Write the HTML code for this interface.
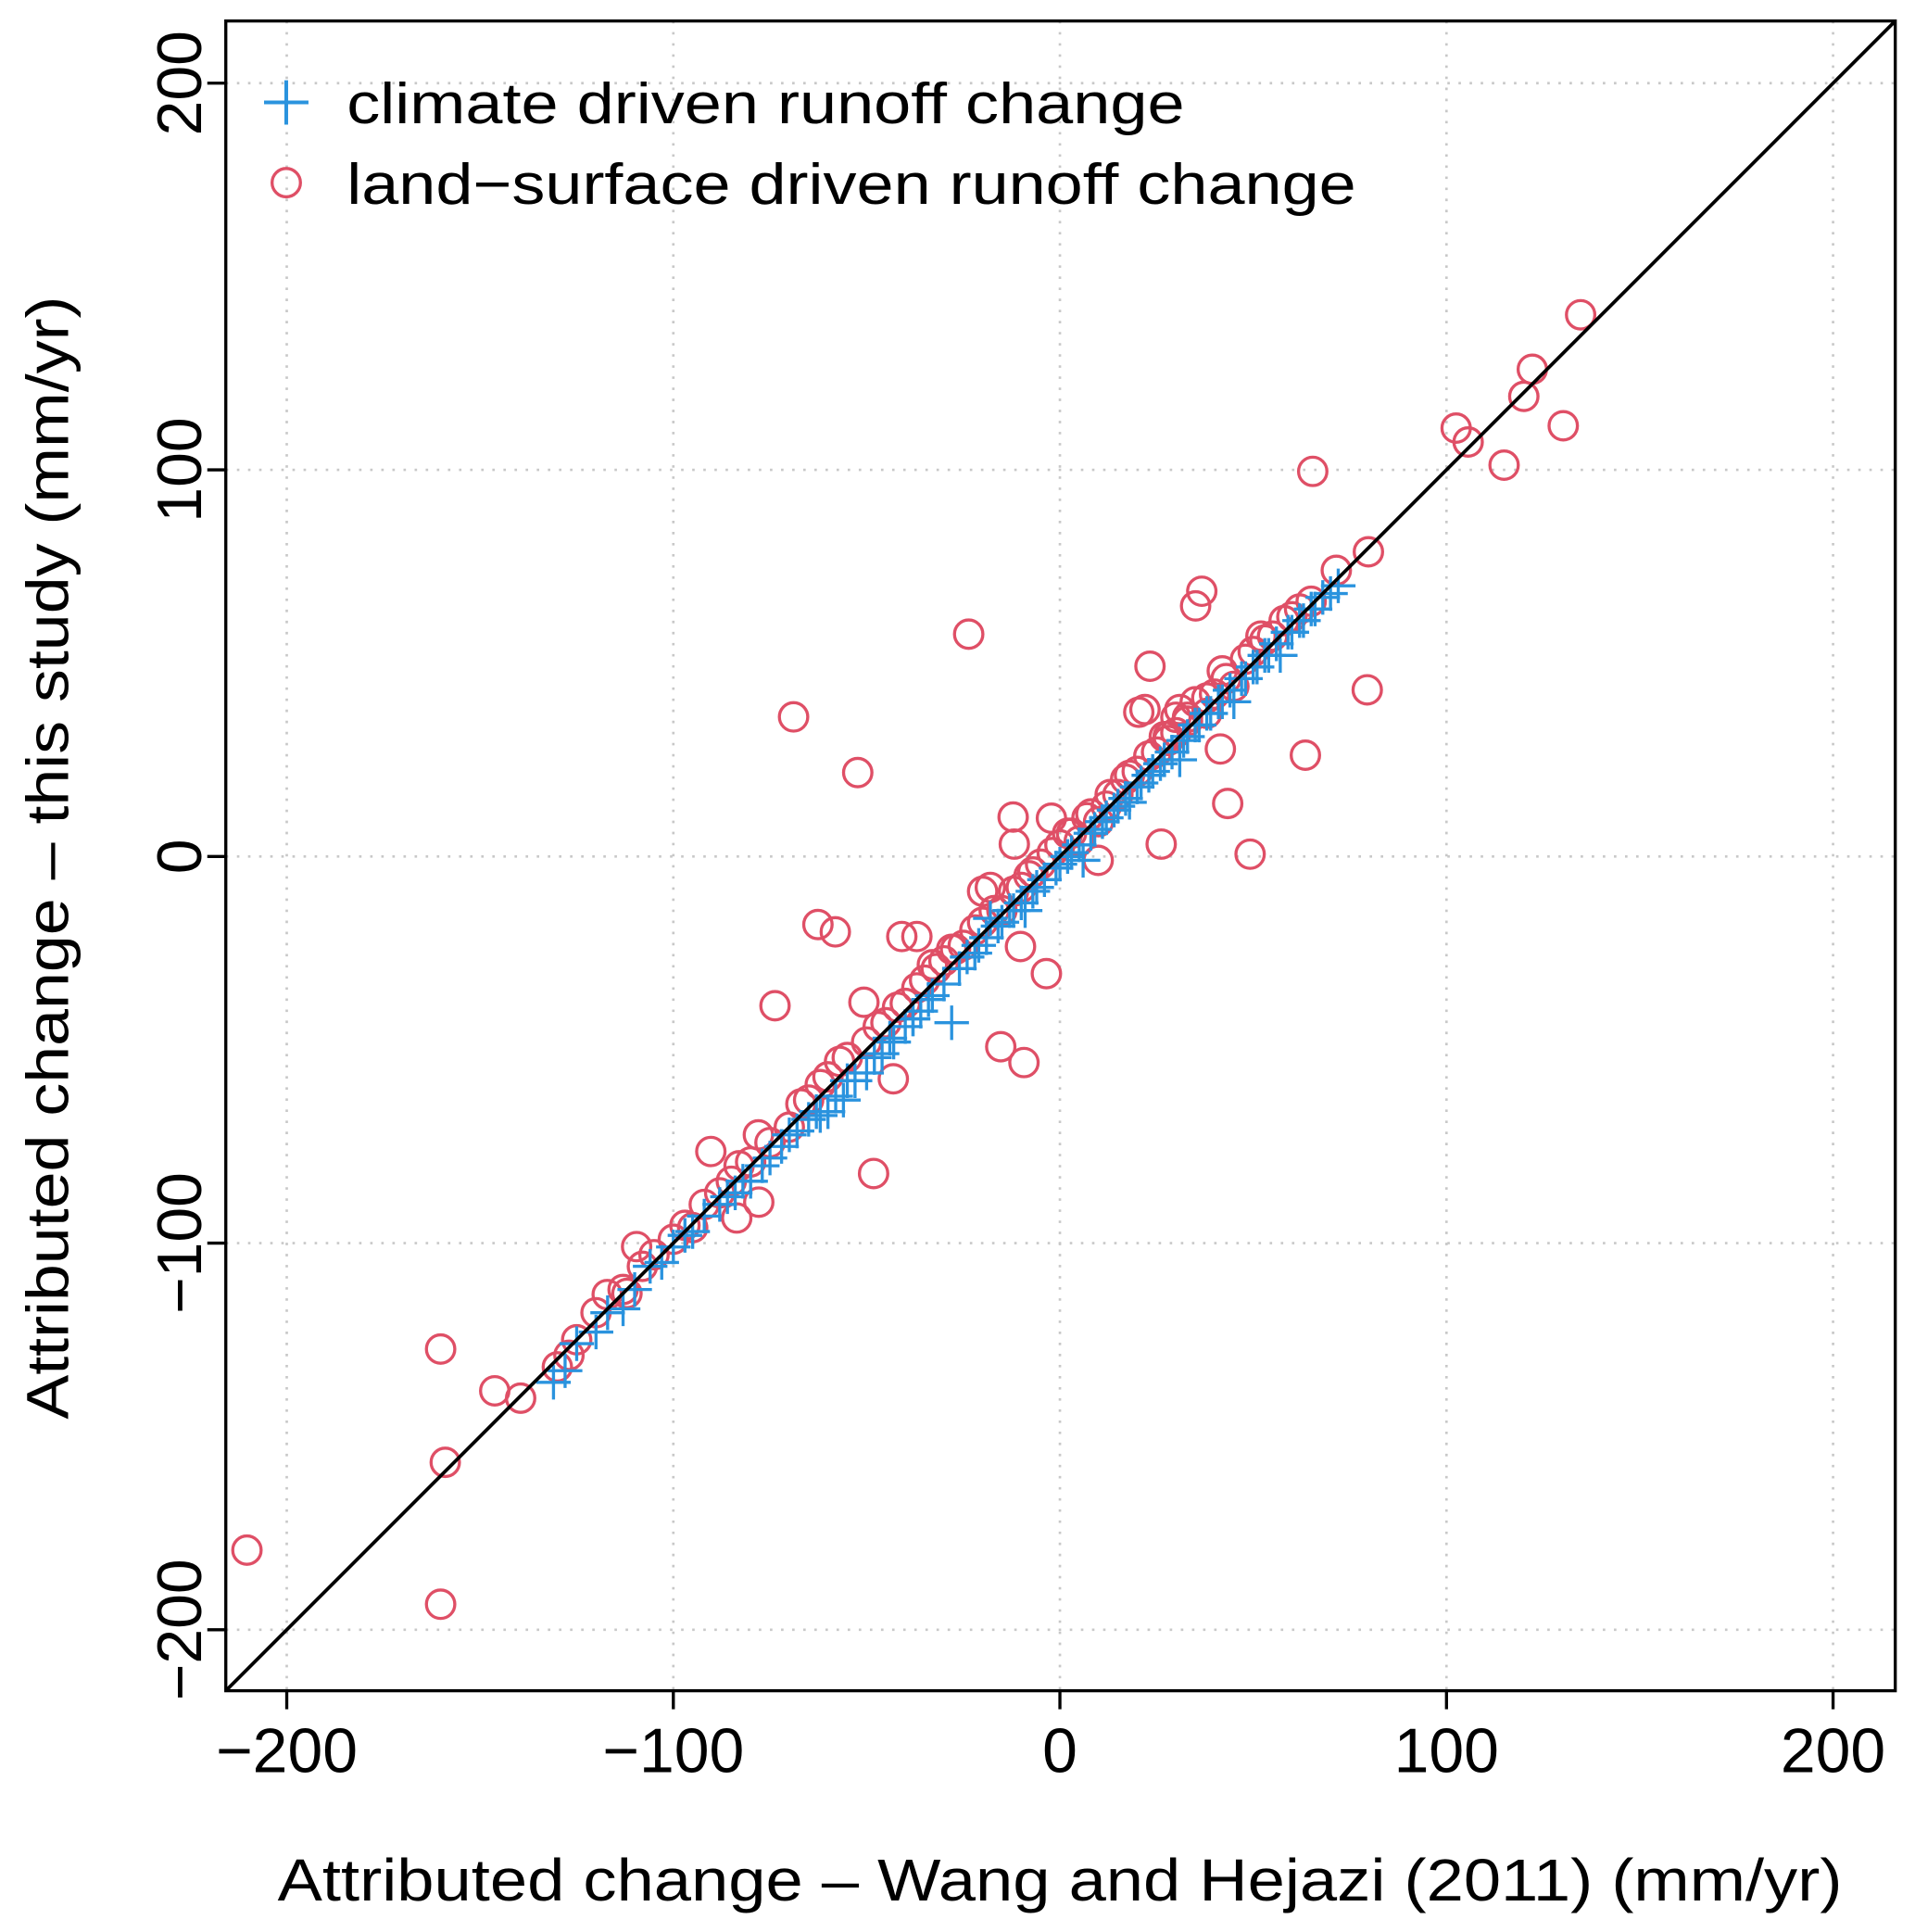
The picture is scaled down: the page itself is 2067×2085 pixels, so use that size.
<!DOCTYPE html>
<html><head><meta charset="utf-8"><style>
html,body{margin:0;padding:0;background:#fff;}
svg{display:block;font-family:"Liberation Sans",Arial,sans-serif;}
</style></head><body>
<svg id="chart" width="2067" height="2085" viewBox="0 0 1552 1565.5" preserveAspectRatio="none" xmlns="http://www.w3.org/2000/svg">
<g id="grid"></g>
<g id="marks"></g>
<rect x="183" y="17" width="1353" height="1353" fill="none" stroke="#000" stroke-width="2.5"/>
<g id="axes"></g>
<text x="225" y="1540" font-size="48" textLength="1268" lengthAdjust="spacingAndGlyphs">Attributed change – Wang and Hejazi (2011) (mm/yr)</text>
<text transform="translate(55,1150) rotate(-90)" font-size="48" textLength="910" lengthAdjust="spacingAndGlyphs">Attributed change – this study (mm/yr)</text>
<g>
  <g>
    <line x1="214" y1="83" x2="250" y2="83" stroke="#2a93de" stroke-width="3"/>
    <line x1="232" y1="65" x2="232" y2="101" stroke="#2a93de" stroke-width="3"/>
    <text x="281" y="100" font-size="47" textLength="679" lengthAdjust="spacingAndGlyphs">climate driven runoff change</text>
  </g>
  <g>
    <circle cx="232" cy="148" r="11.5" fill="none" stroke="#df4f66" stroke-width="2.5"/>
    <text x="281" y="165" font-size="47" textLength="818" lengthAdjust="spacingAndGlyphs">land−surface driven runoff change</text>
  </g>
</g>
</svg>
<script>
const xTicks = [-200, -100, 0, 100, 200];
const yTicks = [-200, -100, 0, 100, 200];
const tickLabels = ["−200", "−100", "0", "100", "200"];
const landX = [134.7,122.2,120,130.2,102.5,105.6,114.9,65.4,79.8,71.5,79.5,63.5,36.7,35.1,-23.6,-68.9,-52.3,23.3,20.4,41.5,43.4,26.2,49.2,9.9,-12.1,-2.2,-11.8,-62.6,-58.1,-40.9,-37,-10.2,-3.5,-73.7,-50.7,-15.3,-9.3,-43.1,-48.2,-90.3,-77.9,-83.6,-97,-109.5,-117.1,-160.2,-146.2,-139.5,-159,-210.3,-160.2,
-130,-125,-120,-112,-105,-100,-95,-88,-85,-80,-78,-75,-70,-65,-60,-55,-50,-45,-40,-35,-30,-25,-20,-15,-10,-5,0,5,10,15,20,25,30,35,40,45,50,55,60,65,30,22,-18,-20,12,28,33,38,-22,-8,
-127,-113,-108,-92,-83,-67,-62,-57,-47,-42,-37,-32,-27,-17,-12,-7,-2,3,8,13,18,23,28,33,38,43,48,53,58,62,-33,-28,2,7,17,27,31,42,52];
const landY = [140.1,126,119,111.4,110.8,107.2,101.2,99.6,78.8,74,43.1,26.2,68.6,64.8,57.5,36.1,21.7,49.2,37.3,27.8,13.7,3.2,0.6,-1,10.2,9.9,3.2,-17.6,-19.5,-20.7,-20.7,-23.3,-30.3,-38.6,-37.7,-49.2,-53.3,-57.5,-82,-76.3,-89.4,-93.5,-95.4,-100.9,-113.3,-127.4,-138.2,-140.1,-156.7,-179.4,-193.4,
-132,-125,-118,-113,-103,-99,-96,-87,-84,-79,-72,-74,-70,-63,-57,-52,-48,-43,-38,-32,-27,-23,-17,-14,-8,-2,3,4,9,16,22,27,32,40,42,44,53,57,62,66,36,38,-8,-9,13,30,35,37,-19,-5,
-129,-112,-106,-90,-80,-64,-59,-53,-44,-39,-34,-29,-24,-14,-9,-4,1,6,11,16,21,26,31,36,41,46,51,56,61,64,-28,-24,6,10,20,31,38,48,57];
const climX = [-131,-128,-120,-113,-110,-106,-100,-97,-92,-88,-84,-80,-77,-72,-68,-65,-60,-56,-53,-50,-46,-43,-40,-36,-28,-33,-30,-26,-22,-19,-16,-13,-10,-7,-4,-1,2,5,8,11,14,17,20,23,26,29,32,35,38,41,44,47,50,53,56,59,62,65,68,72,6,-18,-9,-62,-58,-38,18,31,45,57,
-125,-117,-103,-95,-86,-82,-75,-70,-63,-55,-48,-44,-38,-34,-24,-21,-15,-12,-6,0,3,9,12,15,21,24,27,33,36,39,42,48,51,54,60,63,66,70];
const climY = [-136,-133,-123,-117,-112,-106,-101,-98,-93,-90,-87,-84,-80,-75,-71,-68,-66,-63,-58,-56,-51,-48,-44,-40,-43,-36,-33,-29,-25,-21,-18,-14,-12,-9,-6,-3,0,3,6,9,12,15,18,21,24,27,30,34,37,40,43,46,49,52,55,58,61,64,67,70,-1,-16,-14,-67,-62,-42,14,25,40,52,
-126,-118,-105,-97,-88,-84,-78,-72,-66,-58,-52,-47,-42,-37,-26,-23,-17,-14,-8,-2,1,7,10,13,19,22,25,31,34,37,40,46,49,52,58,61,64,68];

const NS="http://www.w3.org/2000/svg";
const sx = v => 859 + v*3.133;
const sy = v => 694 - v*3.133;
function mk(tag, attrs, parent){const e=document.createElementNS(NS,tag);for(const k in attrs)e.setAttribute(k,attrs[k]);parent.appendChild(e);return e;}
const grid=document.getElementById('grid'), axes=document.getElementById('axes'), marks=document.getElementById('marks');
xTicks.forEach((t,i)=>{
  const g=mk('line',{x1:sx(t),x2:sx(t),y1:17,y2:1370,stroke:'#c8c8c8','stroke-width':2,'stroke-dasharray':'2,7'},grid);
  
  
  const tk=mk('line',{x1:sx(t),x2:sx(t),y1:1370,y2:1385,stroke:'#000','stroke-width':2.5},axes);
  
  
  const lb=mk('text',{x:sx(t),y:1436,'font-size':51,'text-anchor':'middle'},axes);
  lb.textContent=tickLabels[i];
  
  
});
yTicks.forEach((t,i)=>{
  const g=mk('line',{x1:183,x2:1536,y1:sy(t),y2:sy(t),stroke:'#c8c8c8','stroke-width':2,'stroke-dasharray':'2,7'},grid);
  
  
  const tk=mk('line',{x1:168,x2:183,y1:sy(t),y2:sy(t),stroke:'#000','stroke-width':2.5},axes);
  
  
  const lb=mk('text',{transform:`translate(163,${sy(t)}) rotate(-90)`,'font-size':51,'text-anchor':'middle'},axes);
  lb.textContent=tickLabels[i];
  
  
});
landX.forEach((x,i)=>{
  const c=mk('circle',{cx:sx(x),cy:sy(landY[i]),r:11.5,fill:'none',stroke:'#df4f66','stroke-width':2.5},marks);
  
  
});
climX.forEach((x,i)=>{
  const X=sx(x),Y=sy(climY[i]);
  const p=mk('path',{d:`M${X-14},${Y}H${X+14}M${X},${Y-14}V${Y+14}`,stroke:'#2a93de','stroke-width':2.5,fill:'none'},marks);
  
  
});
const d=mk('line',{x1:sx(-215.8),y1:sy(-215.8),x2:sx(216),y2:sy(216),stroke:'#000','stroke-width':2.8},marks);


</script>
</body></html>
